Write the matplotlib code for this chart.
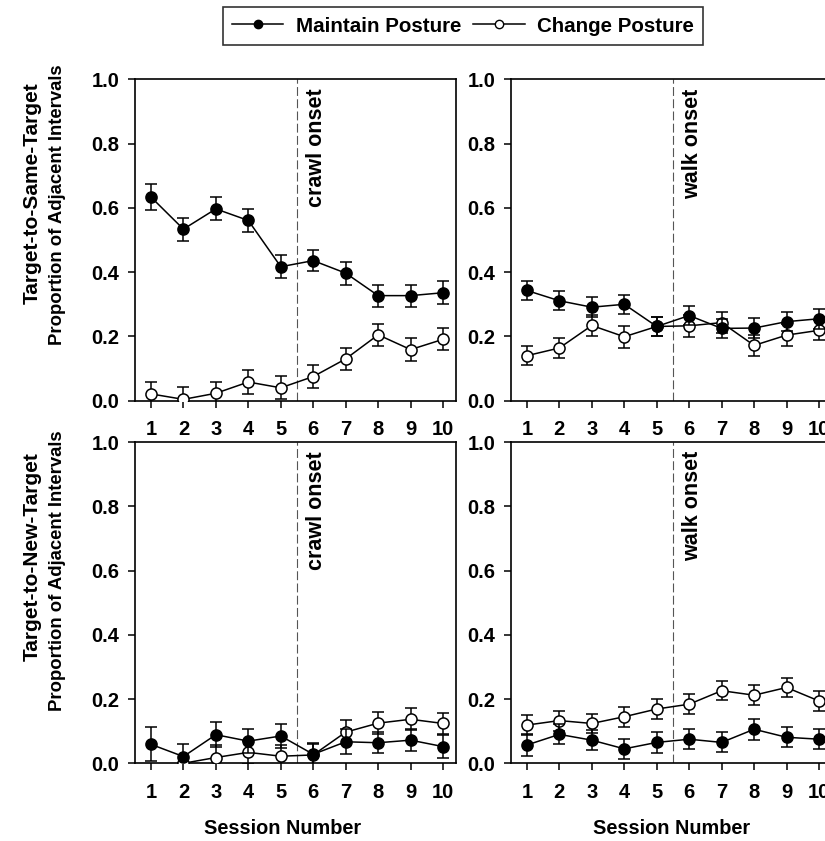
import numpy as np
import matplotlib
matplotlib.use("Agg")
import matplotlib.pyplot as plt
from matplotlib.lines import Line2D

plt.rcParams['font.family'] = ['Liberation Sans', 'DejaVu Sans']
plt.rcParams['font.weight'] = 'bold'

sessions = [1, 2, 3, 4, 5, 6, 7, 8, 9, 10]

# Target-to-Same-Target, crawl
same_crawl_maintain = [0.634, 0.534, 0.597, 0.561, 0.417, 0.436, 0.397, 0.327, 0.327, 0.336]
same_crawl_maintain_err = [0.040, 0.036, 0.036, 0.035, 0.036, 0.033, 0.036, 0.034, 0.034, 0.035]
same_crawl_change = [0.021, 0.004, 0.023, 0.058, 0.040, 0.075, 0.130, 0.205, 0.159, 0.191]
same_crawl_change_err = [0.038, 0.038, 0.035, 0.037, 0.036, 0.035, 0.034, 0.035, 0.035, 0.034]

# Target-to-Same-Target, walk
same_walk_maintain = [0.343, 0.311, 0.291, 0.300, 0.231, 0.265, 0.225, 0.226, 0.246, 0.255]
same_walk_maintain_err = [0.031, 0.030, 0.031, 0.030, 0.031, 0.030, 0.030, 0.031, 0.030, 0.031]
same_walk_change = [0.140, 0.164, 0.234, 0.199, 0.231, 0.233, 0.243, 0.172, 0.204, 0.219]
same_walk_change_err = [0.029, 0.030, 0.034, 0.034, 0.031, 0.034, 0.032, 0.033, 0.035, 0.031]

# Target-to-New-Target, crawl
new_crawl_maintain = [0.059, 0.021, 0.089, 0.069, 0.085, 0.028, 0.067, 0.064, 0.072, 0.052]
new_crawl_maintain_err = [0.053, 0.040, 0.039, 0.038, 0.037, 0.035, 0.039, 0.033, 0.034, 0.036]
new_crawl_change = [np.nan, 0.0, 0.018, 0.034, 0.022, 0.026, 0.097, 0.125, 0.137, 0.124]
new_crawl_change_err = [0.0, 0.0, 0.039, 0.035, 0.036, 0.035, 0.038, 0.035, 0.034, 0.034]

# Target-to-New-Target, walk
new_walk_maintain = [0.057, 0.090, 0.072, 0.045, 0.065, 0.075, 0.065, 0.106, 0.081, 0.075]
new_walk_maintain_err = [0.033, 0.031, 0.032, 0.031, 0.032, 0.031, 0.031, 0.032, 0.031, 0.031]
new_walk_change = [0.119, 0.133, 0.124, 0.145, 0.169, 0.184, 0.226, 0.212, 0.236, 0.194]
new_walk_change_err = [0.031, 0.031, 0.031, 0.031, 0.031, 0.031, 0.030, 0.031, 0.031, 0.031]

onset_session = 5.5
yticks = [0.0, 0.2, 0.4, 0.6, 0.8, 1.0]

fig = plt.figure(figsize=(8.25, 8.41), dpi=100)
w, h = 0.3895, 0.3819
ax_tl = fig.add_axes([0.1633, 0.5236, w, h])
ax_tr = fig.add_axes([0.619, 0.5236, w, h])
ax_bl = fig.add_axes([0.1633, 0.0924, w, h])
ax_br = fig.add_axes([0.619, 0.0924, w, h])

panels = [
    (ax_tl, same_crawl_maintain, same_crawl_maintain_err, same_crawl_change, same_crawl_change_err, 'crawl onset'),
    (ax_tr, same_walk_maintain, same_walk_maintain_err, same_walk_change, same_walk_change_err, 'walk onset'),
    (ax_bl, new_crawl_maintain, new_crawl_maintain_err, new_crawl_change, new_crawl_change_err, 'crawl onset'),
    (ax_br, new_walk_maintain, new_walk_maintain_err, new_walk_change, new_walk_change_err, 'walk onset'),
]

for ax, m, me, c, ce, onset in panels:
    ax.axvline(onset_session, color='#555555', lw=0.8, dashes=(8, 3), zorder=1)
    ax.errorbar(sessions, c, yerr=ce, fmt='-o', color='black', mfc='white', mec='black',
                ms=8, lw=1.1, elinewidth=1.1, capsize=4.5, capthick=1.1, mew=1.1, zorder=3)
    ax.errorbar(sessions, m, yerr=me, fmt='-o', color='black', mfc='black', mec='black',
                ms=8, lw=1.1, elinewidth=1.1, capsize=4.5, capthick=1.1, mew=1.1, zorder=4)
    ax.text(6.1, 0.972, onset, rotation=90, ha='center', va='top', fontsize=15.5,
            fontweight='bold')
    ax.set_xlim(0.5, 10.4)
    ax.set_ylim(0, 1.0)
    ax.set_xticks(sessions)
    ax.set_yticks(yticks)
    ax.set_yticklabels(['%.1f' % v for v in yticks])
    ax.tick_params(direction='out', length=5, width=1.1, labelsize=14.5, top=False, right=False)
    ax.tick_params(axis='x', pad=9)
    ax.tick_params(axis='y', pad=6)
    for s in ax.spines.values():
        s.set_linewidth(1.2)
    for lab in ax.get_xticklabels() + ax.get_yticklabels():
        lab.set_fontweight('bold')

fig.text(32 / 825, 0.770, 'Target-to-Same-Target', rotation=90, ha='center', va='center',
         fontsize=15, fontweight='bold')
fig.text(57 / 825, 0.757, 'Proportion of Adjacent Intervals', rotation=90, ha='center',
         va='center', fontsize=13.3, fontweight='bold')
fig.text(32 / 825, 0.338, 'Target-to-New-Target', rotation=90, ha='center', va='center',
         fontsize=15, fontweight='bold')
fig.text(57 / 825, 0.322, 'Proportion of Adjacent Intervals', rotation=90, ha='center',
         va='center', fontsize=13.3, fontweight='bold')

fig.text(283 / 825, 1 - 829 / 841, 'Session Number', ha='center', va='center',
         fontsize=14.3, fontweight='bold')
fig.text(672 / 825, 1 - 829 / 841, 'Session Number', ha='center', va='center',
         fontsize=14.3, fontweight='bold')

handles = [
    Line2D([], [], color='black', lw=1.1, marker='o', mfc='black', mec='black', ms=6),
    Line2D([], [], color='black', lw=1.1, marker='o', mfc='white', mec='black', ms=6),
]
leg = fig.legend(handles, ['Maintain Posture', 'Change Posture'], loc='center',
                 bbox_to_anchor=(463 / 825, 1 - 26 / 841), ncol=2, frameon=True,
                 fancybox=False, edgecolor='black', handlelength=2.5, columnspacing=0.6,
                 handletextpad=0.6, borderpad=0.45, borderaxespad=0,
                 prop={'size': 14.8, 'weight': 'bold'})
leg.get_frame().set_linewidth(1.2)

fig.savefig('out.png', dpi=100)
